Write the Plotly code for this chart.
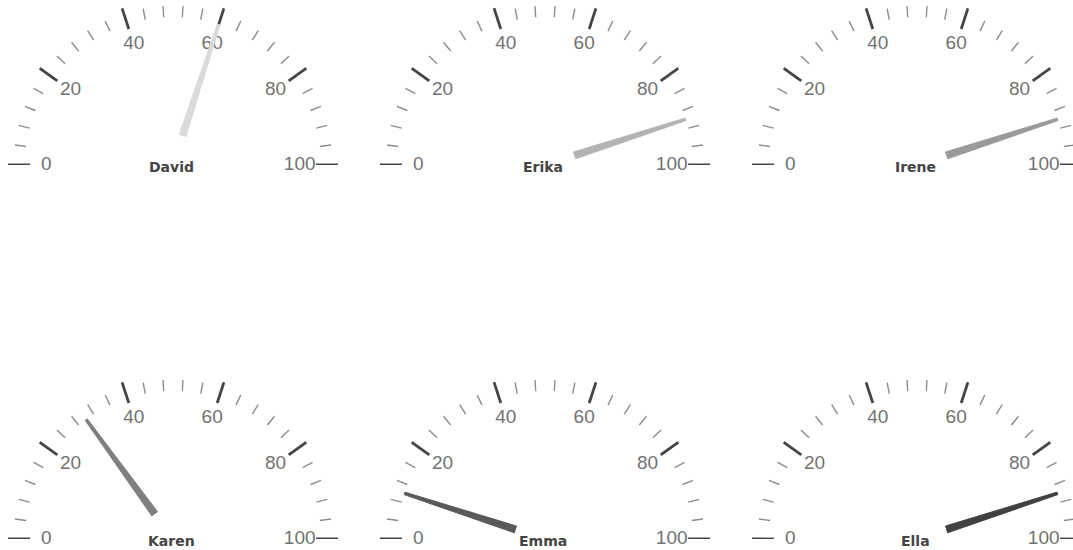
import numpy as np
import plotly.graph_objects as go

# ---- data ----
names = ["David", "Erika", "Irene", "Karen", "Emma", "Ella"]
values = [60, 90, 90, 30, 10, 90]
needle_colors = ["#dadada", "#b3b3b3", "#9a9a9a", "#7f7f7f", "#5a5a5a", "#404040"]
scale_min, scale_max = 0, 100
major_step = 20
minor_step = 4
tick_labels = [str(v) for v in range(scale_min, scale_max + 1, major_step)]

# ---- style / layout constants ----
W, H = 1090, 550
R_PX = 165
centers = [(173, 165), (545, 165), (917, 165), (173, 539), (545, 539), (917, 539)]
ARC = 180.0

def to_theta(v):
    return (np.asarray(v, dtype=float) - scale_min) / (scale_max - scale_min) * ARC

major_vals = np.arange(scale_min, scale_max + 1, major_step)
minor_vals = np.array([v for v in range(scale_min, scale_max + 1, minor_step) if v % major_step != 0])

def segs(vals, r0, r1):
    r, t = [], []
    for th in to_theta(vals):
        r += [r0, r1, None]
        t += [th, th, None]
    return r, t

fig = go.Figure()
layout_polars = {}
annotations = []
for i, (name, val, col) in enumerate(zip(names, values, needle_colors)):
    pid = "polar" if i == 0 else f"polar{i+1}"
    cx, cy = centers[i]
    dom_x = [max((cx - R_PX) / W, 0.0), min((cx + R_PX) / W, 1.0)]
    dom_y = [max((H - cy) / H, 0.0), min((H - cy + R_PX) / H, 1.0)]
    layout_polars[pid] = dict(
        domain=dict(x=dom_x, y=dom_y),
        sector=[0, 180],
        bgcolor="rgba(0,0,0,0)",
        angularaxis=dict(visible=False, rotation=180, direction="clockwise"),
        radialaxis=dict(visible=False, range=[0, 1]),
    )
    # minor ticks
    r, t = segs(minor_vals, 0.897, 0.965)
    fig.add_trace(go.Scatterpolar(r=r, theta=t, mode="lines", subplot=pid,
                                  line=dict(color="#8c8c8c", width=1.4),
                                  hoverinfo="skip", showlegend=False))
    # major ticks
    r, t = segs(major_vals, 0.867, 1.0)
    fig.add_trace(go.Scatterpolar(r=r, theta=t, mode="lines", subplot=pid,
                                  line=dict(color="#454545", width=2.8),
                                  hoverinfo="skip", showlegend=False))
    # tick labels
    fig.add_trace(go.Scatterpolar(r=[0.768] * len(major_vals), theta=to_theta(major_vals),
                                  mode="text", text=tick_labels, subplot=pid,
                                  textfont=dict(family="Liberation Sans", size=19, color="#727272"),
                                  hoverinfo="skip", showlegend=False))
    # needle (tapered wedge)
    th = float(to_theta(val))
    rb, rt = 0.19, 0.895
    db, dt = 6.5, 0.5
    fig.add_trace(go.Scatterpolar(
        r=[rb, rt, rt, rb, rb],
        theta=[th - db, th - dt, th + dt, th + db, th - db],
        mode="lines", fill="toself", fillcolor=col, subplot=pid,
        line=dict(color=col, width=1),
        hoverinfo="skip", showlegend=False))
    # name label, just under the gauge pivot
    annotations.append(dict(
        text=f"<b>{name}</b>", xref="paper", yref="paper",
        x=(cx - 2) / W, y=(H - cy - 2) / H, xanchor="center", yanchor="middle",
        showarrow=False,
        font=dict(family="DejaVu Sans", size=14, color="#444444")))

fig.update_layout(
    width=W, height=H,
    margin=dict(l=0, r=0, t=0, b=0),
    paper_bgcolor="white",
    plot_bgcolor="white",
    showlegend=False,
    annotations=annotations,
    **layout_polars,
)
fig.write_html("out.html",
               config={"displayModeBar": False},
               post_script="document.body.style.margin='0px';document.body.style.overflow='hidden';")
